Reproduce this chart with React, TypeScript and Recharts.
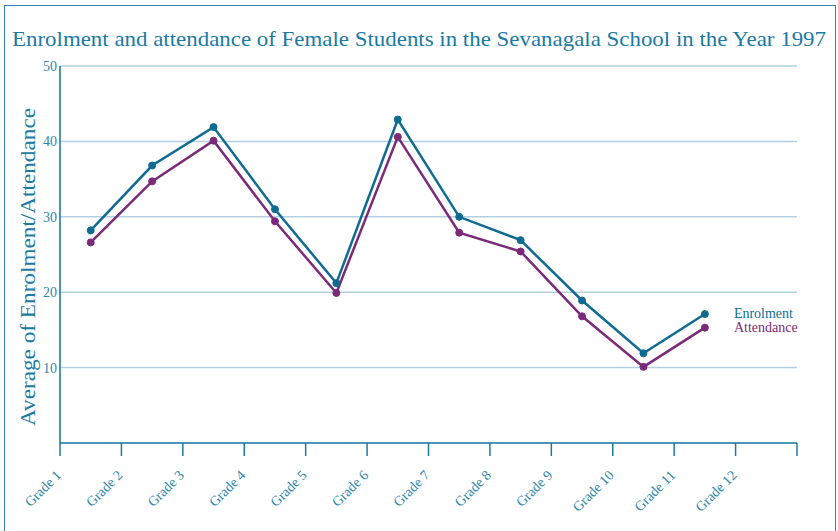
import { LineChart, Line, XAxis, YAxis, CartesianGrid } from 'recharts';

const grades = ['Grade 1', 'Grade 2', 'Grade 3', 'Grade 4', 'Grade 5', 'Grade 6', 'Grade 7', 'Grade 8', 'Grade 9', 'Grade 10', 'Grade 11', 'Grade 12'];
const enrolment = [28.2, 36.8, 41.9, 31.0, 21.2, 42.9, 30.0, 26.9, 18.9, 11.9, 17.1];
const attendance = [26.6, 34.7, 40.1, 29.4, 19.9, 40.6, 27.9, 25.4, 16.8, 10.1, 15.3];
const yTicks = [10, 20, 30, 40, 50];

const TEAL = '#0f6b91';
const PURPLE = '#7a2a78';
const TEXT = '#2f87ad';
const FONT = '"Liberation Serif", "DejaVu Serif", serif';

// points sit in the middle of each grade slot
const data = enrolment.map((v, i) => ({ x: i + 0.5, enrolment: v, attendance: attendance[i] }));
const xTicks = grades.map((_, i) => i).concat([grades.length]);

const GradeTick = (props: any) => {
  const { x, y, payload } = props;
  const label = grades[payload.value] || '';
  const ax = x + 2;
  const ay = y + 18;
  return (
    <text
      x={ax}
      y={ay}
      transform={`rotate(-45, ${ax}, ${ay})`}
      textAnchor="end"
      fontSize={14}
      fontFamily={FONT}
      fill={TEXT}
    >
      {label}
    </text>
  );
};

const endLabel = (name: string, color: string) => (props: any) => {
  const { x, y, index } = props;
  if (index !== data.length - 1) return null;
  return (
    <text x={x + 29} y={y + 4} fontSize={14} fontFamily={FONT} fill={color}>
      {name}
    </text>
  );
};

export default function App() {
  return (
    <div style={{ position: 'absolute', left: 0, top: 0, width: 838, height: 531, overflow: 'hidden', background: '#fff' }}>
      <div style={{ position: 'absolute', left: 4, top: 5, width: 832, height: 540, border: '1.5px solid #2f86ad', boxSizing: 'border-box' }} />
      <svg width={838} height={531} style={{ position: 'absolute', left: 0, top: 0 }}>
        <text x={12} y={46} fontSize={22} fontFamily={FONT} fill="#1a7aa2" textLength={814} lengthAdjust="spacingAndGlyphs">
          Enrolment and attendance of Female Students in the Sevanagala School in the Year 1997
        </text>
        <text
          x={35}
          y={267}
          transform="rotate(-90, 35, 267)"
          textAnchor="middle"
          fontSize={22}
          fontFamily={FONT}
          fill="#1a7aa2"
          textLength={318}
          lengthAdjust="spacingAndGlyphs"
        >
          Average of Enrolment/Attendance
        </text>
      </svg>
      <div style={{ position: 'absolute', left: 0, top: 0 }}>
        <LineChart width={838} height={531} data={data} margin={{ top: 66, right: 41, bottom: 28, left: 10 }}>
          <CartesianGrid vertical={false} stroke="#b3cfe0" strokeWidth={1.5} />
          <XAxis
            type="number"
            dataKey="x"
            domain={[0, 12]}
            ticks={xTicks}
            interval={0}
            axisLine={{ stroke: '#4b95b8', strokeWidth: 2 }}
            tickLine={{ stroke: '#1f7aa0', strokeWidth: 1.5 }}
            tickSize={13}
            tick={<GradeTick />}
            height={60}
          />
          <YAxis
            type="number"
            domain={[0, 50]}
            ticks={yTicks}
            width={50}
            axisLine={{ stroke: '#1a6f95', strokeWidth: 1.5 }}
            tickLine={false}
            tickSize={0}
            tickMargin={3}
            tick={{ fontSize: 14, fontFamily: FONT, fill: TEXT }}
          />
          <Line
            type="linear"
            dataKey="enrolment"
            stroke={TEAL}
            strokeWidth={2.5}
            dot={{ r: 3.5, fill: TEAL, stroke: TEAL, strokeWidth: 1 }}
            isAnimationActive={false}
            label={endLabel('Enrolment', TEAL)}
          />
          <Line
            type="linear"
            dataKey="attendance"
            stroke={PURPLE}
            strokeWidth={2.5}
            dot={{ r: 3.5, fill: PURPLE, stroke: PURPLE, strokeWidth: 1 }}
            isAnimationActive={false}
            label={endLabel('Attendance', PURPLE)}
          />
        </LineChart>
      </div>
    </div>
  );
}
